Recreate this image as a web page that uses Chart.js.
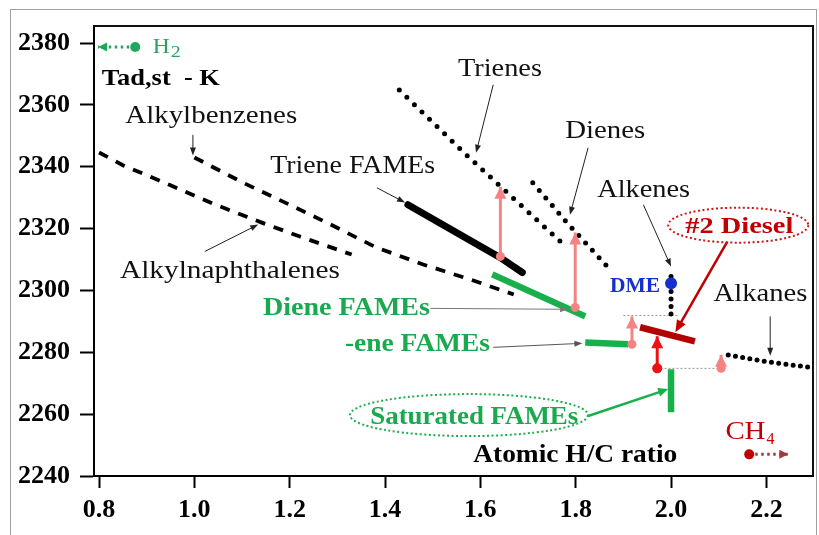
<!DOCTYPE html>
<html>
<head>
<meta charset="utf-8">
<script src="https://cdn.jsdelivr.net/npm/chart.js@4.4.1/dist/chart.umd.min.js"></script>
<style>
  html, body { margin: 0; padding: 0; background: #fff; }
  #wrap { width: 819px; height: 535px; }
</style>
</head>
<body>
<div id="wrap"><canvas id="c" width="819" height="535"></canvas></div>
<script>
// ---- axis ticks ----
const xTickValues = [0.8, 1.0, 1.2, 1.4, 1.6, 1.8, 2.0, 2.2];
const yTickValues = [2240, 2260, 2280, 2300, 2320, 2340, 2360, 2380];

// ---- hydrocarbon families (atomic H/C ratio vs adiabatic flame temperature, K) ----
const alkylbenzenesHC = [1.00, 1.10, 1.20, 1.29, 1.38, 1.48, 1.58, 1.67];
const alkylbenzenesT  = [2343.0, 2335.0, 2327.7, 2321.0, 2314.0, 2308.4, 2303.5, 2298.7];

const alkylnaphthalenesHC = [0.80, 0.85, 0.95, 1.04, 1.14, 1.22, 1.33];
const alkylnaphthalenesT  = [2344.6, 2340.5, 2334.0, 2328.0, 2322.0, 2317.5, 2311.6];

const trienesHC = [1.43, 1.57, 1.77];
const trienesT  = [2364.8, 2343.9, 2315.5];

const dienesHC = [1.71, 1.78, 1.87];
const dienesT  = [2334.8, 2322.2, 2307.1];

const alkenesHC = [2.0, 2.0];
const alkenesT  = [2304.5, 2292.3];

const alkanesHC = [2.12, 2.20, 2.297];
const alkanesT  = [2279.1, 2277.0, 2275.0];

// ---- fatty acid methyl esters ----
const trieneFamesHC = [1.448, 1.642, 1.688];
const trieneFamesT  = [2327.7, 2310.6, 2305.8];

const dieneFamesHC = [1.625, 1.820];
const dieneFamesT  = [2305.2, 2291.6];

const eneFamesHC = [1.820, 1.910];
const eneFamesT  = [2283.2, 2282.6];

const saturatedFamesHC = [2.0, 2.0];
const saturatedFamesT  = [2274.5, 2260.6];

// ---- No. 2 diesel ----
const dieselHC = [1.935, 2.050];
const dieselT  = [2288.1, 2283.5];

// ---- shifts (base -> tip) ----
const shiftTrieneHC = [1.642, 1.642];
const shiftTrieneT  = [2311.0, 2333.5];
const shiftDieneHC  = [1.799, 1.799];
const shiftDieneT   = [2294.5, 2318.7];
const shiftEneHC    = [1.918, 1.918];
const shiftEneT     = [2282.6, 2291.6];
const shiftSatHC    = [2.105, 2.105];
const shiftSatT     = [2274.8, 2279.2];
const shiftDieselHC = [1.971, 1.971];
const shiftDieselT  = [2274.8, 2285.2];

// ---- reference guides ----
const guideUpperHC = [1.900, 2.015];
const guideUpperT  = [2291.9, 2291.9];
const guideLowerHC = [1.961, 2.114];
const guideLowerT  = [2274.8, 2274.8];

// ---- single species ----
const dmeHC = [2.0];
const dmeT  = [2302.3];
const h2HC  = [0.876, 0.798];
const h2T   = [2378.7, 2378.7];
const ch4HC = [2.164, 2.246];
const ch4T  = [2247.0, 2247.0];

// ---- colours ----
const GREEN = '#19b04c';
const GREEN_TXT = '#1aa94f';
const PINK = '#f58383';
const RED = '#ee1111';
const DARKRED = '#b30000';
const BLUE = '#1530cc';
const SERIF = "'Liberation Serif', 'DejaVu Serif', serif";

function pts(xs, ys) { return xs.map((x, i) => ({ x, y: ys[i] })); }

function series(label, xs, ys, style) {
  return Object.assign({
    label, data: pts(xs, ys), showLine: true, fill: false,
    pointRadius: 0, pointHoverRadius: 0, tension: 0, borderCapStyle: 'butt'
  }, style);
}

function shift(label, xs, ys, color, r) {
  return series(label, xs, ys, {
    borderColor: color, borderWidth: 3, order: 1,
    pointRadius: [r, 0], pointBackgroundColor: color, pointBorderWidth: 0,
    arrowHead: { len: 12, half: 6, color }
  });
}

const datasets = [
  series('Alkylbenzenes', alkylbenzenesHC, alkylbenzenesT,
    { borderColor: '#000', borderWidth: 3.8, borderDash: [10, 9], order: 6 }),
  series('Alkylnaphthalenes', alkylnaphthalenesHC, alkylnaphthalenesT,
    { borderColor: '#000', borderWidth: 3.8, borderDash: [10, 9], order: 6 }),
  series('Trienes', trienesHC, trienesT,
    { borderColor: '#000', borderWidth: 5, borderDash: [0, 10.5], borderCapStyle: 'round', order: 6 }),
  series('Dienes', dienesHC, dienesT,
    { borderColor: '#000', borderWidth: 5, borderDash: [0, 10], borderCapStyle: 'round', order: 6 }),
  series('Alkenes', alkenesHC, alkenesT,
    { borderColor: '#000', borderWidth: 5, borderDash: [0, 7.5], borderCapStyle: 'round', order: 6 }),
  series('Alkanes', alkanesHC, alkanesT,
    { borderColor: '#000', borderWidth: 5, borderDash: [0, 7.3], borderCapStyle: 'round', order: 6 }),
  series('Guide upper', guideUpperHC, guideUpperT,
    { borderColor: '#999', borderWidth: 1, borderDash: [2, 2], order: 7 }),
  series('Guide lower', guideLowerHC, guideLowerT,
    { borderColor: '#999', borderWidth: 1, borderDash: [2, 2], order: 7 }),
  series('Triene FAMEs', trieneFamesHC, trieneFamesT,
    { borderColor: '#000', borderWidth: 7, borderCapStyle: 'round', order: 4 }),
  series('Diene FAMEs', dieneFamesHC, dieneFamesT,
    { borderColor: GREEN, borderWidth: 6.5, order: 4 }),
  series('-ene FAMEs', eneFamesHC, eneFamesT,
    { borderColor: GREEN, borderWidth: 6.5, order: 4 }),
  series('Saturated FAMEs', saturatedFamesHC, saturatedFamesT,
    { borderColor: GREEN, borderWidth: 6.5, order: 4 }),
  series('#2 Diesel', dieselHC, dieselT,
    { borderColor: DARKRED, borderWidth: 6.5, order: 3 }),
  shift('Triene shift', shiftTrieneHC, shiftTrieneT, PINK, 4.5),
  shift('Diene shift', shiftDieneHC, shiftDieneT, PINK, 4.5),
  shift('-ene shift', shiftEneHC, shiftEneT, PINK, 4.5),
  shift('Saturated shift', shiftSatHC, shiftSatT, PINK, 4.5),
  shift('Diesel shift', shiftDieselHC, shiftDieselT, RED, 5),
  series('DME', dmeHC, dmeT,
    { showLine: false, pointRadius: 6, pointBackgroundColor: BLUE, pointBorderWidth: 0, order: 0 }),
  series('H2', h2HC, h2T,
    { borderColor: '#1ea85a', borderWidth: 3, borderDash: [2.5, 3.5], order: 0,
      pointRadius: [5, 0], pointBackgroundColor: '#1ea85a', pointBorderWidth: 0,
      arrowHead: { len: 9, half: 4.5, color: '#1ea85a' } }),
  series('CH4', ch4HC, ch4T,
    { borderColor: '#a33a3a', borderWidth: 3, borderDash: [2.5, 3.5], order: 0,
      pointRadius: [5, 0], pointBackgroundColor: '#c00000', pointBorderWidth: 0,
      arrowHead: { len: 9, half: 4.5, color: '#a33a3a' } })
];

// ---- text annotations (positions in axis units, baseline-left) ----
const textNotes = [
  { text: 'Tad,st  - K', at: [0.806, 2366.5], w: 118, font: 'bold 24px', color: '#000' },
  { text: 'Alkylbenzenes', at: [0.855, 2354.2], w: 172, font: '25px', color: '#111' },
  { text: 'Trienes', at: [1.553, 2369.4], w: 84, font: '26px', color: '#111' },
  { text: 'Dienes', at: [1.778, 2349.4], w: 80, font: '26px', color: '#111' },
  { text: 'Alkenes', at: [1.845, 2330.3], w: 93, font: '26px', color: '#111' },
  { text: 'Alkanes', at: [2.089, 2296.5], w: 94, font: '26px', color: '#111' },
  { text: 'Triene FAMEs', at: [1.159, 2338.1], w: 165, font: '25px', color: '#111' },
  { text: 'Alkylnaphthalenes', at: [0.844, 2303.9], w: 220, font: '25px', color: '#111' },
  { text: 'Diene FAMEs', at: [1.144, 2291.9], w: 167, font: 'bold 25px', color: GREEN_TXT },
  { text: '-ene FAMEs', at: [1.316, 2280.3], w: 145, font: 'bold 25px', color: GREEN_TXT },
  { text: 'DME', at: [1.872, 2299.4], w: 50, font: 'bold 22px', color: BLUE },
  { text: '#2 Diesel', at: [2.030, 2318.7], w: 108, font: 'bold 24px', color: '#c00000' },
  { text: 'Saturated FAMEs', at: [1.369, 2256.8], w: 208, font: 'bold 26px', color: GREEN_TXT },
  { text: 'Atomic H/C ratio', at: [1.585, 2244.5], w: 204, font: 'bold 25px', color: '#000' },
  { text: 'CH', sub: '4', at: [2.114, 2251.9], w: 40, font: '26px', subFont: '17px', subDy: 5, subW: 8, color: '#c00000' },
  { text: 'H', sub: '2', at: [0.913, 2376.8], w: 17, font: '21px', subFont: '16px', subDy: 4, subW: 10, color: '#2e9e62' }
];

// ---- dotted ovals around labels ----
const ovals = [
  { at: [1.576, 2259.7], rx: 119, ry: 21, color: GREEN },
  { at: [2.141, 2321.1], rx: 70, ry: 17.5, color: '#d01515' }
];

// ---- pointer arrows (axis units) ----
const pointers = [
  { from: [0.997, 2350.3], to: [0.997, 2343.6] },
  { from: [1.022, 2312.6], to: [1.134, 2321.3] },
  { from: [1.627, 2366.5], to: [1.591, 2344.5] },
  { from: [1.826, 2346.1], to: [1.788, 2324.5] },
  { from: [1.383, 2333.2], to: [1.442, 2328.4] },
  { from: [1.942, 2327.7], to: [2.000, 2307.7] },
  { from: [2.208, 2291.6], to: [2.208, 2278.9] },
  { from: [1.495, 2294.2], to: [1.784, 2293.9], color: '#777' },
  { from: [1.627, 2281.6], to: [1.814, 2282.9], color: '#555' },
  { from: [1.826, 2259.4], to: [1.994, 2268.1], color: GREEN, width: 2.5, len: 10, half: 4.5 },
  { from: [2.118, 2315.8], to: [2.009, 2286.5], color: '#c00000', width: 2.5, len: 12, half: 5 }
];

function head(ctx, x1, y1, x2, y2, len, half, color) {
  const a = Math.atan2(y2 - y1, x2 - x1);
  ctx.save();
  ctx.translate(x2, y2);
  ctx.rotate(a);
  ctx.beginPath();
  ctx.moveTo(0, 0);
  ctx.lineTo(-len, -half);
  ctx.lineTo(-len, half);
  ctx.closePath();
  ctx.fillStyle = color;
  ctx.fill();
  ctx.restore();
}

function fitText(ctx, str, x, y, font, color, width) {
  ctx.save();
  ctx.font = font + ' ' + SERIF;
  ctx.fillStyle = color;
  ctx.textAlign = 'left';
  ctx.textBaseline = 'alphabetic';
  const m = ctx.measureText(str).width;
  const s = width ? width / m : 1;
  ctx.translate(x, y);
  ctx.scale(s, 1);
  ctx.fillText(str, 0, 0);
  ctx.restore();
  return width || m;
}

const decor = {
  id: 'decor',
  beforeDraw(chart) {
    const ctx = chart.ctx;
    ctx.save();
    ctx.fillStyle = '#fff';
    ctx.fillRect(0, 0, chart.width, chart.height);
    ctx.strokeStyle = '#a0a0a0';
    ctx.lineWidth = 1;
    ctx.strokeRect(10.5, 9.5, 806, 560);
    ctx.restore();
  },
  afterDatasetsDraw(chart) {
    const ctx = chart.ctx;
    const xs = chart.scales.x, ys = chart.scales.y;
    const px = v => xs.getPixelForValue(v), py = v => ys.getPixelForValue(v);

    // arrow heads on shift / species datasets
    chart.data.datasets.forEach((ds, i) => {
      if (!ds.arrowHead) return;
      const d = chart.getDatasetMeta(i).data;
      const a = d[d.length - 2], b = d[d.length - 1];
      head(ctx, a.x, a.y, b.x, b.y, ds.arrowHead.len, ds.arrowHead.half, ds.arrowHead.color);
    });

    // pointer arrows
    pointers.forEach(p => {
      const x1 = px(p.from[0]), y1 = py(p.from[1]);
      const x2 = px(p.to[0]), y2 = py(p.to[1]);
      const len = p.len || 8, half = p.half || 3;
      const a = Math.atan2(y2 - y1, x2 - x1);
      ctx.save();
      ctx.strokeStyle = p.color || '#222';
      ctx.lineWidth = p.width || 1;
      ctx.beginPath();
      ctx.moveTo(x1, y1);
      ctx.lineTo(x2 - Math.cos(a) * len * 0.7, y2 - Math.sin(a) * len * 0.7);
      ctx.stroke();
      ctx.restore();
      head(ctx, x1, y1, x2, y2, len, half, p.color || '#222');
    });

    // dotted ovals
    ovals.forEach(o => {
      ctx.save();
      ctx.strokeStyle = o.color;
      ctx.lineWidth = 2;
      ctx.setLineDash([2, 2.5]);
      ctx.beginPath();
      ctx.ellipse(px(o.at[0]), py(o.at[1]), o.rx, o.ry, 0, 0, Math.PI * 2);
      ctx.stroke();
      ctx.restore();
    });

    // labels
    textNotes.forEach(t => {
      const x = px(t.at[0]), y = py(t.at[1]);
      const w = fitText(ctx, t.text, x, y, t.font, t.color, t.w);
      if (t.sub) fitText(ctx, t.sub, x + w + 1, y + t.subDy, t.subFont, t.color, t.subW);
    });
  },
  afterDraw(chart) {
    const { left, top, right, bottom } = chart.chartArea;
    const ctx = chart.ctx;
    ctx.save();
    ctx.strokeStyle = '#111';
    ctx.lineWidth = 2;
    ctx.beginPath();
    ctx.moveTo(left, top);
    ctx.lineTo(right, top);
    ctx.lineTo(right, bottom);
    ctx.stroke();
    ctx.restore();
  }
};

const tickFont = { family: SERIF, weight: 'bold', size: 26 };

new Chart(document.getElementById('c'), {
  type: 'scatter',
  data: { datasets },
  options: {
    responsive: false,
    devicePixelRatio: 1,
    animation: false,
    events: [],
    layout: { padding: { left: 0, right: 6, top: 26, bottom: 0 } },
    plugins: { legend: { display: false }, tooltip: { enabled: false } },
    scales: {
      x: {
        type: 'linear', min: 0.7895, max: 2.2978,
        afterBuildTicks: s => { s.ticks = xTickValues.map(v => ({ value: v })); },
        afterFit: s => { s.height = 59; },
        grid: { drawOnChartArea: false, drawTicks: true, tickLength: 12, tickColor: '#000', tickWidth: 2 },
        border: { display: true, color: '#000', width: 2 },
        ticks: { color: '#000', font: tickFont, padding: 7, maxRotation: 0, callback: v => Number(v).toFixed(1) }
      },
      y: {
        type: 'linear', min: 2240, max: 2385.5,
        afterBuildTicks: s => { s.ticks = yTickValues.map(v => ({ value: v })); },
        afterFit: s => { s.width = 94; },
        grid: { drawOnChartArea: false, drawTicks: true, tickLength: 14, tickColor: '#000', tickWidth: 2 },
        border: { display: true, color: '#000', width: 2 },
        ticks: { color: '#000', font: tickFont, padding: 10, callback: v => String(v) }
      }
    }
  },
  plugins: [decor]
});
</script>
</body>
</html>
